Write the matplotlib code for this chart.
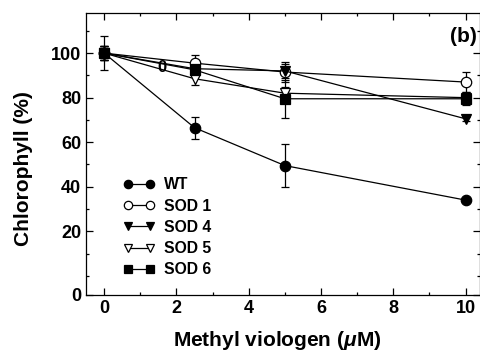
import matplotlib
matplotlib.use("Agg")
import matplotlib.pyplot as plt
from matplotlib.ticker import MultipleLocator

# data
dose = [0, 2.5, 5, 10]

wt = [100, 66.5, 49.5, 34]
wt_err = [7.5, 5, 9.5, 0]
sod1 = [100, 95.5, 91.5, 87]
sod1_err = [3, 3.5, 4.5, 4.5]
sod4 = [100, 93, 92, 70.5]
sod4_err = [3, 3, 3, 1]
sod5 = [100, 88.5, 82, 80]
sod5_err = [3, 3, 3, 2]
sod6 = [100, 92.5, 79.5, 79.5]
sod6_err = [3, 3, 8.5, 3]

labels = ["WT", "SOD 1", "SOD 4", "SOD 5", "SOD 6"]
ytick_vals = [20, 40, 60, 80, 100]

font = "Liberation Sans"
plt.rcParams['font.family'] = [font, 'DejaVu Sans']
plt.rcParams['mathtext.fontset'] = 'custom'
plt.rcParams['mathtext.it'] = font + ':italic:bold'
plt.rcParams['mathtext.rm'] = font + ':bold'

fig = plt.figure(figsize=(4.81, 3.52), dpi=100)
ax = fig.add_axes([0.179, 0.162, 0.819, 0.801])

ymin = -8.6

series = [
    (wt, wt_err, 'o', 'k', 7.5),
    (sod1, sod1_err, 'o', 'white', 7.5),
    (sod4, sod4_err, 'v', 'k', 7.5),
    (sod5, sod5_err, 'v', 'white', 7.5),
    (sod6, sod6_err, 's', 'k', 6.5),
]

handles = []
for vals, errs, mk, fc, ms in series:
    c = ax.errorbar(dose, vals, yerr=errs, fmt='-' + mk, color='k', lw=0.9,
                    mfc=fc, mec='k', mew=0.9, ms=ms, elinewidth=0.9,
                    capsize=3, capthick=0.9)
    handles.append(c[0])

# stray "0" glyph that sits in the original figure
ax.text(1.6, 93.6, "0", fontsize=12, fontweight='bold', ha='center', va='center')

ax.set_xlim(-0.5, 10.4)
ax.set_ylim(ymin, 118)
ax.set_xticks([0, 2, 4, 6, 8, 10])
ax.xaxis.set_minor_locator(MultipleLocator(1))
ax.set_yticks([ymin] + ytick_vals)
ax.set_yticklabels(["0"] + [str(v) for v in ytick_vals])
ax.yaxis.set_minor_locator(MultipleLocator(10))

ax.tick_params(which='both', direction='in', top=True, right=True,
               labelsize=13, width=0.9)
ax.tick_params(which='major', length=5)
ax.tick_params(which='minor', length=2.5)
for lab in ax.get_xticklabels() + ax.get_yticklabels():
    lab.set_fontweight('bold')
for sp in ax.spines.values():
    sp.set_linewidth(0.9)

ax.set_xlabel(r"Methyl viologen ($\mu$M)", fontsize=15, fontweight='bold')
ax.xaxis.set_label_coords(0.485, -0.16)
ax.xaxis.label.set_va('center')
ax.set_ylabel("Chlorophyll (%)", fontsize=15, fontweight='bold')
ax.yaxis.set_label_coords(-0.16, 0.45)
ax.yaxis.label.set_va('center')

ax.text(0.992, 0.915, "(b)", transform=ax.transAxes, fontsize=15,
        fontweight='bold', ha='right', va='center')

leg = ax.legend(handles, labels, loc='upper left', bbox_to_anchor=(0.075, 0.445),
                frameon=False, numpoints=2, handlelength=2.0, handletextpad=0.55,
                labelspacing=0.4, borderpad=0, markerscale=0.8,
                prop={'size': 11.3, 'weight': 'bold'})

fig.savefig("out.png", dpi=100)
plt.close(fig)
